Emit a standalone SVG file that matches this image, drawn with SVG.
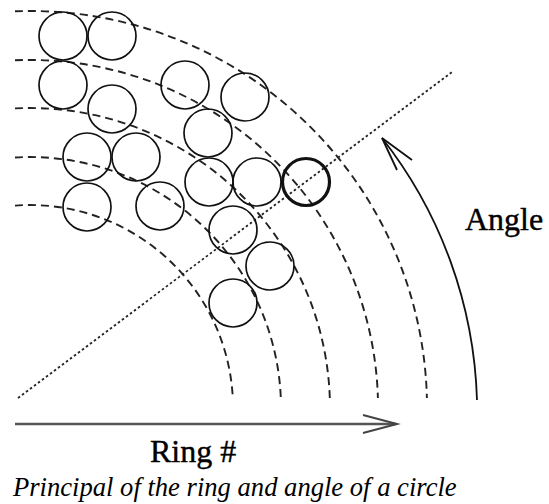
<svg xmlns="http://www.w3.org/2000/svg" width="549" height="504" viewBox="0 0 549 504">
<style>
.ring{fill:none;stroke:#222;stroke-width:1.9;stroke-dasharray:8 5}
.c{fill:none;stroke:#111;stroke-width:1.7}
.bold{stroke-width:3.2}
.lbl{font-family:"Liberation Serif","Times New Roman",serif;fill:#000}
</style>
<rect width="549" height="504" fill="#fff"/>
<g id="connectors">
<path class="ring" d="M15,205.6 A203,203 0 0 1 232.8,398"/>
<path class="ring" d="M15,157.5 A251,251 0 0 1 280.8,398"/>
<path class="ring" d="M15,108.4 A300,300 0 0 1 329.8,398"/>
<path class="ring" d="M15,60.3 A348,348 0 0 1 377.9,398"/>
<path class="ring" d="M15,11.3 A397,397 0 0 1 426.9,398"/>
<line x1="18" y1="398" x2="452" y2="72" stroke="#222" stroke-width="1.8" stroke-dasharray="2.5 2.5"/>
<path d="M477,400 A446,446 0 0 0 382,138" fill="none" stroke="#111" stroke-width="1.8"/>
<polyline points="397,170 382,138 412,160" fill="none" stroke="#111" stroke-width="1.8"/>
<line x1="15" y1="424" x2="396" y2="424" stroke="#555" stroke-width="2.4"/>
<polyline points="363,415 397,424 363,433" fill="none" stroke="#444" stroke-width="2"/>
</g>
<g id="circles">
<circle id="n1" class="c" cx="63" cy="36" r="24"/>
<circle id="n2" class="c" cx="112" cy="36" r="24"/>
<circle id="n3" class="c" cx="63" cy="85" r="24"/>
<circle id="n4" class="c" cx="112" cy="109" r="24"/>
<circle id="n5" class="c" cx="185" cy="85" r="24"/>
<circle id="n6" class="c" cx="245" cy="97" r="24"/>
<circle id="n7" class="c" cx="208" cy="133" r="24"/>
<circle id="n8" class="c" cx="87" cy="157" r="24"/>
<circle id="n9" class="c" cx="136" cy="157" r="24"/>
<circle id="n10" class="c" cx="87" cy="207" r="24"/>
<circle id="n11" class="c" cx="160" cy="206" r="24"/>
<circle id="n12" class="c" cx="209" cy="182" r="24"/>
<circle id="n13" class="c" cx="257" cy="182" r="24"/>
<circle id="n14" class="c bold" cx="306" cy="182" r="23.5"/>
<circle id="n15" class="c" cx="233" cy="230" r="24"/>
<circle id="n16" class="c" cx="270" cy="266" r="24"/>
<circle id="n17" class="c" cx="233" cy="303" r="24"/>
</g>
<g id="labels">
<text class="lbl" x="465" y="230" font-size="32" stroke="#000" stroke-width="0.4">Angle</text>
<text class="lbl" x="150" y="462" font-size="32" stroke="#000" stroke-width="0.4">Ring #</text>
<text class="lbl" x="13" y="496" font-size="26.6" font-style="italic">Principal of the ring and angle of a circle</text>
</g>
</svg>
